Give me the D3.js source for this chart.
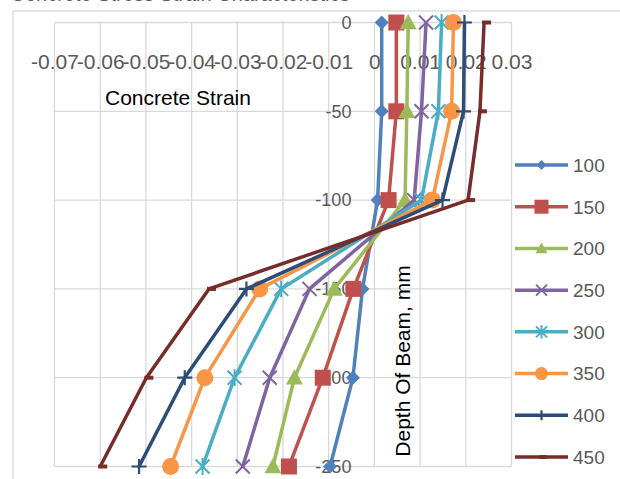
<!DOCTYPE html>
<html>
<head>
<meta charset="utf-8">
<script src="https://cdn.jsdelivr.net/npm/d3@7"></script>
<style>
  body { margin: 0; background: #fff; }
  svg { display: block; font-family: "Liberation Sans", Arial, sans-serif; }
</style>
</head>
<body>
<div id="chart"></div>
<script>
// depth points (mm) and strain per load series
var depths = [0, -50, -100, -150, -200, -250];
var seriesNames = ['100', '150', '200', '250', '300', '350', '400', '450'];
var s100 = [0.0016, 0.0016, 0.0007, -0.0026, -0.0047, -0.0097];
var s150 = [0.0048, 0.0048, 0.0031, -0.0046, -0.0113, -0.0187];
var s200 = [0.0074, 0.0071, 0.0067, -0.0088, -0.0175, -0.0222];
var s250 = [0.0113, 0.0103, 0.0087, -0.0142, -0.0229, -0.0288];
var s300 = [0.0147, 0.0140, 0.0103, -0.0204, -0.0306, -0.0376];
var s350 = [0.0173, 0.0169, 0.0127, -0.0251, -0.0371, -0.0446];
var s400 = [0.0197, 0.0195, 0.0149, -0.0280, -0.0415, -0.0515];
var s450 = [0.0240, 0.0231, 0.0205, -0.0362, -0.0499, -0.0600];
var xTicks = [-0.07, -0.06, -0.05, -0.04, -0.03, -0.02, -0.01, 0, 0.01, 0.02, 0.03];
var yTicks = [0, -50, -100, -150, -200, -250];

var allSeries = [s100, s150, s200, s250, s300, s350, s400, s450];
var colors = ['#4F81BD', '#C0504D', '#9BBB59', '#8064A2', '#4BACC6', '#F79646', '#2C4D75', '#772C2A'];
var markers = ['diamond', 'square', 'triangle', 'x', 'star', 'circle', 'plus', 'dash'];

var svgWidth = 620;
var svgHeight = 479;
var plot = { left: 54.5, top: 22.5, right: 511.5, bottom: 466.5 };

var svg = d3.select('#chart')
  .append('svg')
  .attr('width', svgWidth)
  .attr('height', svgHeight);

// chart area border (cut off right and bottom like the reference)
svg.append('rect')
  .attr('x', 13).attr('y', 11)
  .attr('width', 640).attr('height', 500)
  .attr('fill', '#fff')
  .attr('stroke', '#d9d9d9')
  .attr('stroke-width', 1.3);

// title, mostly above the top edge as in the reference
svg.append('text')
  .attr('x', 180).attr('y', 1)
  .attr('text-anchor', 'middle')
  .style('font-size', '20px')
  .style('fill', '#595959')
  .text('Concrete Stress Strain Characteristics');

var xScale = d3.scaleLinear().domain([-0.07, 0.03]).range([plot.left, plot.right]);
var yScale = d3.scaleLinear().domain([0, -250]).range([plot.top, plot.bottom]);

// gridlines
svg.append('g')
  .selectAll('line')
  .data(xTicks)
  .enter()
  .append('line')
  .attr('x1', d => xScale(d)).attr('x2', d => xScale(d))
  .attr('y1', plot.top).attr('y2', plot.bottom)
  .attr('stroke', '#d9d9d9').attr('stroke-width', 1.3);

svg.append('g')
  .selectAll('line')
  .data(yTicks)
  .enter()
  .append('line')
  .attr('x1', plot.left).attr('x2', plot.right)
  .attr('y1', d => yScale(d)).attr('y2', d => yScale(d))
  .attr('stroke', '#d9d9d9').attr('stroke-width', 1.3);

// x axis sits at depth 0, labels pushed below
var xAxis = d3.axisBottom(xScale)
  .tickValues(xTicks)
  .tickSize(0)
  .tickPadding(32)
  .tickFormat(d => d === 0 ? '0' : String(+d.toFixed(2)));

var xAxisG = svg.append('g')
  .attr('transform', `translate(0, ${yScale(0)})`)
  .call(xAxis);
xAxisG.select('.domain').remove();
xAxisG.selectAll('text')
  .style('font-size', '21px')
  .style('font-family', '"Liberation Sans", Arial, sans-serif')
  .attr('fill', '#595959');

// y axis sits at strain 0
var yAxis = d3.axisLeft(yScale)
  .tickValues(yTicks)
  .tickSize(0)
  .tickPadding(23)
  .tickFormat(d => String(d));

var yAxisG = svg.append('g')
  .attr('transform', `translate(${xScale(0)}, 0)`)
  .call(yAxis);
yAxisG.select('.domain').remove();
yAxisG.selectAll('text')
  .style('font-size', '18px')
  .style('font-family', '"Liberation Sans", Arial, sans-serif')
  .attr('fill', '#595959');

// axis titles
svg.append('text')
  .attr('x', 105).attr('y', 105)
  .style('font-size', '21px')
  .style('fill', '#000')
  .text('Concrete Strain');

svg.append('text')
  .attr('transform', 'translate(410, 361) rotate(-90)')
  .attr('text-anchor', 'middle')
  .style('font-size', '21px')
  .style('fill', '#000')
  .text('Depth Of Beam, mm');

function drawMarker(g, type, cx, cy, color, s) {
  if (type === 'diamond') {
    g.append('path')
      .attr('d', `M${cx},${cy - s} L${cx + s},${cy} L${cx},${cy + s} L${cx - s},${cy} Z`)
      .attr('fill', color);
  }
  else if (type === 'square') {
    g.append('rect')
      .attr('x', cx - s).attr('y', cy - s)
      .attr('width', 2 * s).attr('height', 2 * s)
      .attr('fill', color);
  }
  else if (type === 'triangle') {
    g.append('path')
      .attr('d', `M${cx},${cy - s} L${cx + s},${cy + s * 0.8} L${cx - s},${cy + s * 0.8} Z`)
      .attr('fill', color);
  }
  else if (type === 'circle') {
    g.append('circle')
      .attr('cx', cx).attr('cy', cy).attr('r', s)
      .attr('fill', color);
  }
  else if (type === 'x' || type === 'star') {
    g.append('path')
      .attr('d', `M${cx - s},${cy - s} L${cx + s},${cy + s} M${cx - s},${cy + s} L${cx + s},${cy - s}` +
        (type === 'star' ? ` M${cx},${cy - s * 1.2} L${cx},${cy + s * 1.2}` : ''))
      .attr('stroke', color).attr('stroke-width', 2).attr('fill', 'none');
  }
  else if (type === 'plus') {
    g.append('path')
      .attr('d', `M${cx - s},${cy} L${cx + s},${cy} M${cx},${cy - s} L${cx},${cy + s}`)
      .attr('stroke', color).attr('stroke-width', 2.2).attr('fill', 'none');
  }
  else if (type === 'dash') {
    g.append('rect')
      .attr('x', cx - 2).attr('y', cy - 2)
      .attr('width', s).attr('height', 4)
      .attr('fill', color);
  }
}

var plotSizes = { diamond: 7, square: 8, triangle: 8.5, x: 7, star: 7, circle: 8.5, plus: 7.5, dash: 9 };
var legendSizes = { diamond: 5, square: 7, triangle: 6, x: 5.5, star: 5.5, circle: 6.5, plus: 5, dash: 7 };

var line = d3.line()
  .x(d => xScale(d.strain))
  .y(d => yScale(d.depth));

allSeries.forEach(function(values, i) {
  var points = depths.map((d, j) => ({ depth: d, strain: values[j] }));
  var g = svg.append('g').attr('class', 'series s' + seriesNames[i]);
  g.append('path')
    .datum(points)
    .attr('d', line)
    .attr('fill', 'none')
    .attr('stroke', colors[i])
    .attr('stroke-width', 3.5)
    .attr('stroke-linejoin', 'round')
    .attr('stroke-linecap', 'round');
  points.forEach(function(p) {
    drawMarker(g, markers[i], xScale(p.strain), yScale(p.depth), colors[i], plotSizes[markers[i]]);
  });
});

// legend
var legendY = d3.scalePoint().domain(seriesNames).range([165, 457]);
var legend = svg.append('g').attr('class', 'legend');
seriesNames.forEach(function(name, i) {
  var ly = legendY(name);
  legend.append('line')
    .attr('x1', 515).attr('x2', 568)
    .attr('y1', ly).attr('y2', ly)
    .attr('stroke', colors[i])
    .attr('stroke-width', 3.5);
  drawMarker(legend, markers[i], 541.5, ly, colors[i], legendSizes[markers[i]]);
  legend.append('text')
    .attr('x', 573).attr('y', ly)
    .attr('dy', '0.36em')
    .style('font-size', '19px')
    .style('fill', '#595959')
    .text(name);
});
</script>
</body>
</html>
